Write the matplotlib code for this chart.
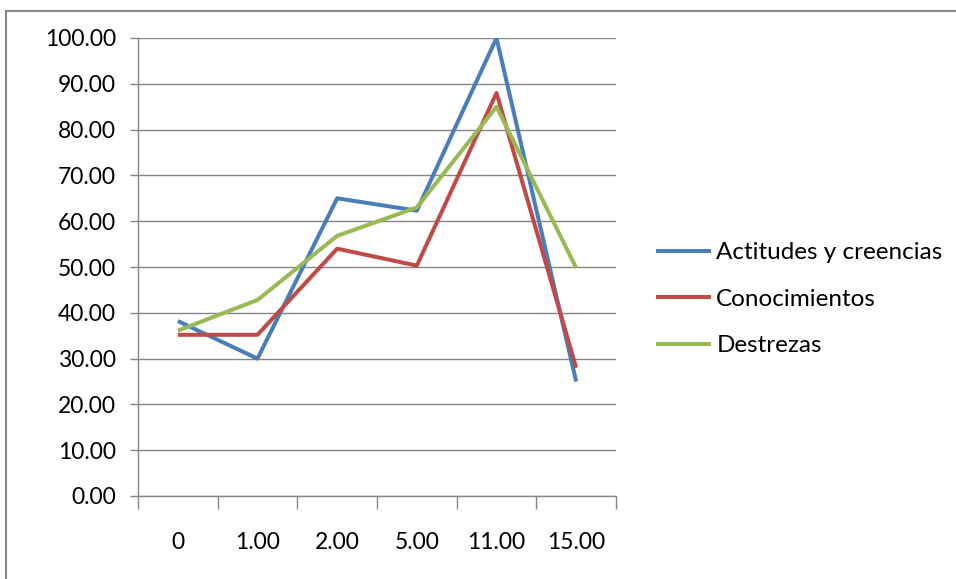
import matplotlib.pyplot as plt
from matplotlib.patches import Rectangle
from matplotlib.ticker import FixedLocator, FixedFormatter

categories = ["0", "1.00", "2.00", "5.00", "11.00", "15.00"]
actitudes = [38.2, 30.0, 65.0, 62.3, 100.0, 25.0]
conocimientos = [35.2, 35.2, 54.0, 50.3, 88.0, 28.0]
destrezas = [36.1, 42.8, 56.8, 63.0, 85.0, 49.8]

series = [
    ("Actitudes y creencias", actitudes, "#4A7EBB"),
    ("Conocimientos", conocimientos, "#BE4B48"),
    ("Destrezas", destrezas, "#98B954"),
]

plt.rcParams["font.family"] = ["Lato", "DejaVu Sans"]

fig = plt.figure(figsize=(9.56, 5.79), dpi=100)
ax = fig.add_axes([138 / 956, 83 / 579, 478 / 956, 458 / 579])

x = list(range(len(categories)))
for name, vals, color in series:
    ax.plot(x, vals, color=color, linewidth=2.9, label=name, solid_capstyle="butt")

ax.set_xlim(-0.5, len(categories) - 0.5)
ax.set_ylim(0, 100)

# grid + y ticks
ax.set_yticks(range(0, 101, 10))
ax.set_yticklabels([f"{v:.2f}" for v in range(0, 101, 10)], fontsize=16.5)
ax.yaxis.grid(True, color="#868686", linewidth=1.0)
ax.set_axisbelow(True)

# x ticks at category boundaries, labels at centers
bounds = [i - 0.5 for i in range(len(categories) + 1)]
ax.xaxis.set_major_locator(FixedLocator(bounds))
ax.xaxis.set_major_formatter(FixedFormatter([""] * len(bounds)))
ax.xaxis.set_minor_locator(FixedLocator(x))
ax.xaxis.set_minor_formatter(FixedFormatter(categories))
ax.tick_params(axis="x", which="major", length=9, color="#868686", width=1)
ax.tick_params(axis="x", which="minor", length=0, labelsize=16.5, pad=26)
ax.tick_params(axis="y", length=6, color="#868686", width=1, pad=10)

for s in ["top", "right"]:
    ax.spines[s].set_visible(False)
for s in ["left", "bottom"]:
    ax.spines[s].set_color("#868686")
    ax.spines[s].set_linewidth(1)

ax.legend(loc="center left", bbox_to_anchor=(1.037, 0.43), frameon=False,
          fontsize=17.5, handlelength=2.3, handletextpad=0.2, labelspacing=1.05)

# outer chart frame (partly cropped)
fig.add_artist(Rectangle((6 / 956, -0.1), 1.2, 1.1 - 11 / 579, transform=fig.transFigure,
                         fill=False, edgecolor="#888888", linewidth=1.5))

fig.savefig("out.png", dpi=100, facecolor="white")
